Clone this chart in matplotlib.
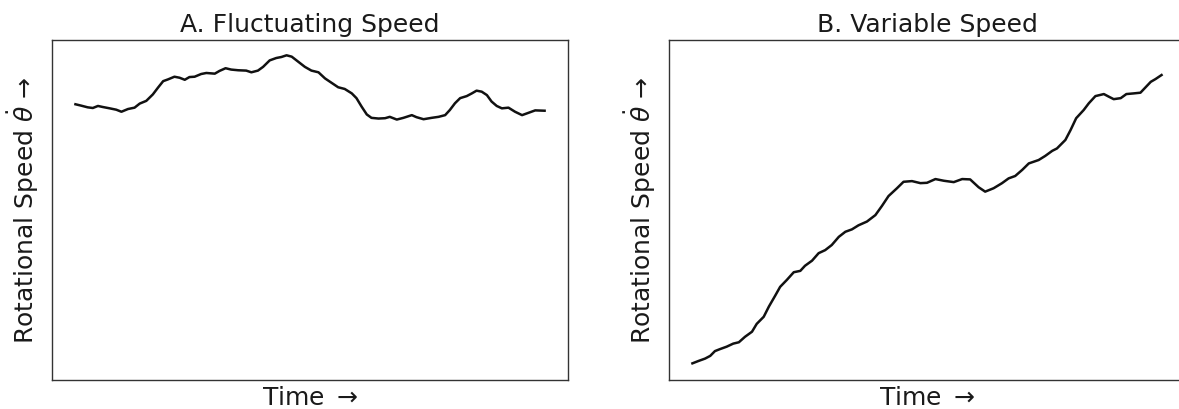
import matplotlib
matplotlib.use('Agg')
import matplotlib.pyplot as plt


# fluctuating speed: wanders around a constant level
fluct_time = [0.00, 0.12, 0.26, 0.37, 0.48, 0.58, 0.73, 0.87, 0.98, 1.12,
              1.26, 1.37, 1.51, 1.65, 1.76, 1.87, 1.97, 2.11, 2.22, 2.33,
              2.43, 2.54, 2.68, 2.79, 2.97, 3.07, 3.20, 3.32, 3.47, 3.64,
              3.75, 3.89, 4.00, 4.14, 4.28, 4.39, 4.50, 4.61, 4.75, 4.89,
              5.03, 5.18, 5.32, 5.46, 5.60, 5.74, 5.89, 5.99, 6.10, 6.21,
              6.31, 6.46, 6.60, 6.70, 6.85, 6.99, 7.17, 7.27, 7.42, 7.59,
              7.74, 7.88, 7.98, 8.09, 8.20, 8.34, 8.45, 8.55, 8.66, 8.77,
              8.87, 8.98, 9.09, 9.23, 9.37, 9.52, 9.66, 9.80, 10.00]
fluct_speed = [81.1, 80.7, 80.2, 80.0, 80.6, 80.3, 79.9, 79.5, 78.9, 79.7,
               80.1, 81.3, 82.1, 84.0, 86.0, 87.9, 88.4, 89.2, 88.9, 88.3,
               89.1, 89.2, 90.0, 90.3, 90.1, 90.9, 91.7, 91.3, 91.1, 91.0,
               90.5, 91.0, 92.1, 94.0, 94.7, 95.0, 95.5, 95.1, 93.6, 92.1,
               91.0, 90.5, 88.7, 87.4, 86.1, 85.6, 84.3, 82.9, 80.4, 78.1,
               77.1, 76.9, 77.0, 77.4, 76.6, 77.1, 77.9, 77.3, 76.7, 77.1,
               77.4, 77.9, 79.4, 81.4, 82.9, 83.5, 84.3, 85.1, 84.8, 83.8,
               81.9, 80.6, 79.9, 80.1, 78.9, 77.9, 78.6, 79.3, 79.2]

# variable speed: ramps up over time
var_time = [0.00, 0.13, 0.27, 0.38, 0.48, 0.59, 0.73, 0.87, 0.99, 1.12,
            1.27, 1.37, 1.52, 1.63, 1.76, 1.87, 2.01, 2.16, 2.30, 2.40,
            2.55, 2.69, 2.83, 2.97, 3.12, 3.26, 3.40, 3.54, 3.72, 3.90,
            4.04, 4.18, 4.36, 4.50, 4.68, 4.86, 5.00, 5.18, 5.36, 5.57,
            5.75, 5.92, 6.10, 6.24, 6.42, 6.60, 6.74, 6.88, 7.03, 7.17,
            7.38, 7.52, 7.67, 7.77, 7.95, 8.06, 8.18, 8.34, 8.45, 8.59,
            8.77, 8.88, 8.98, 9.13, 9.25, 9.41, 9.55, 9.66, 9.77, 9.87,
            10.00]
var_speed = [4.9, 5.6, 6.3, 7.1, 8.5, 9.1, 9.8, 10.7, 11.1, 12.7,
             14.2, 16.5, 18.6, 21.6, 24.7, 27.4, 29.4, 31.7, 32.1, 33.6,
             35.1, 37.3, 38.2, 39.7, 42.1, 43.6, 44.3, 45.5, 46.6, 48.5,
             51.2, 54.1, 56.4, 58.3, 58.5, 57.9, 58.0, 59.1, 58.6, 58.2,
             59.1, 59.0, 56.7, 55.4, 56.4, 57.9, 59.3, 60.0, 61.8, 63.7,
             64.7, 65.9, 67.4, 68.1, 70.6, 73.5, 77.0, 79.4, 81.4, 83.5,
             84.1, 83.3, 82.6, 82.9, 84.1, 84.3, 84.5, 86.1, 87.7, 88.5,
             89.7]

titles = ['A. Fluctuating Speed', 'B. Variable Speed']


def main():
    fig = plt.figure(figsize=(11.79, 4.09), dpi=100)
    ax1 = fig.add_axes([0.0441, 0.0709, 0.4377, 0.8313])
    ax2 = fig.add_axes([0.5674, 0.0709, 0.4377, 0.8313])

    ax1.plot(fluct_time, fluct_speed, color='#111111', lw=1.8)
    ax2.plot(var_time, var_speed, color='#111111', lw=1.8)

    for ax, title in zip([ax1, ax2], titles):
        ax.set_ylim(0, 100)
        ax.set_xticks([])
        ax.set_yticks([])
        for spine in ax.spines.values():
            spine.set_color('#333333')
            spine.set_linewidth(1.0)
        ax.set_title(title, fontsize=18, color='#1a1a1a')
        ax.set_xlabel('Time $\\rightarrow$', fontsize=18, color='#1a1a1a')
        ax.set_ylabel('Rotational Speed $\\dot{\\theta}$ →',
                      fontsize=18, labelpad=8, color='#1a1a1a')

    fig.savefig('out.png', dpi=100)


if __name__ == "__main__":
    main()
